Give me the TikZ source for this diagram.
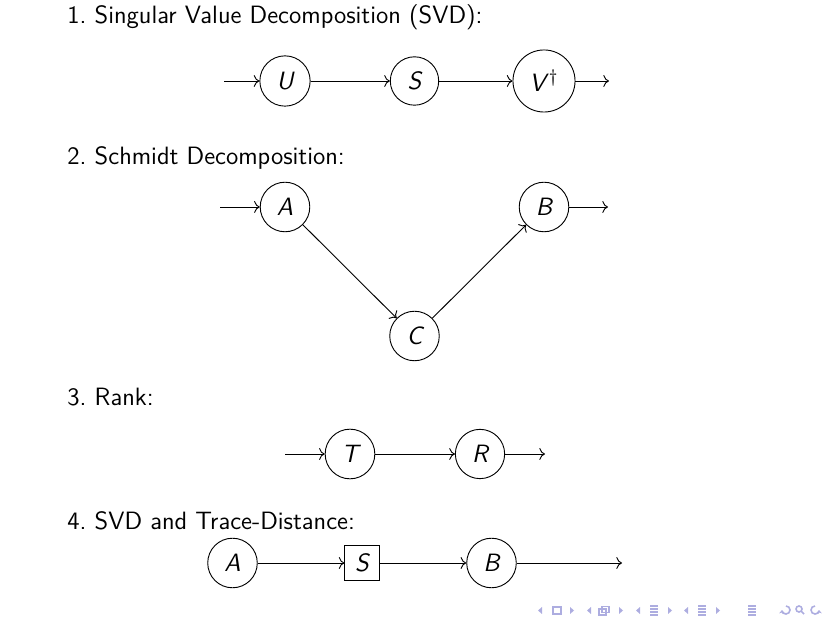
\documentclass[tikz,border=0pt]{standalone}
\usepackage{tikz}
\usetikzlibrary{arrows,arrows.meta}
\renewcommand{\familydefault}{\sfdefault}
\definecolor{navcol}{rgb}{0.68,0.68,0.88}

\begin{document}
\fontsize{11}{13.6}\selectfont
\begin{tikzpicture}[x=0.015422cm, y=-0.015422cm,
	state/.style={circle, draw, inner sep=4pt, font=\itshape},
	block/.style={rectangle, draw, minimum size=15pt, inner sep=3pt, font=\itshape},
	item/.style={anchor=base west, inner sep=0pt},
	nav/.style={navcol, line width=0.7pt}]
	\useasboundingbox (0,0) rectangle (830,623);

	% 1. SVD
	\node[item] (t1) at (67,24) {1.\ Singular Value Decomposition (SVD):};
	\coordinate (in1) at (224,81);
	\node[state] (u) at (285,81) {U};
	\node[state] (s) at (414.5,81) {S};
	\node[state] (v) at (544,81) {V\/$^{\dagger}$};
	\coordinate (out1) at (609,81);
	\path[->]
	(in1) edge (u)
	(u) edge (s)
	(s) edge (v)
	(v) edge (out1)
	;

	% 2. Schmidt
	\node[item] (t2) at (67,165) {2.\ Schmidt Decomposition:};
	\coordinate (in2) at (220,207);
	\node[state] (a) at (285,207) {A};
	\node[state] (c) at (414.5,336) {C};
	\node[state] (b) at (544,207) {B};
	\coordinate (out2) at (608,207);
	\path[->]
	(in2) edge (a)
	(a) edge (c)
	(c) edge (b)
	(b) edge (out2)
	;

	% 3. Rank
	\node[item] (t3) at (67,406) {3.\ Rank:};
	\coordinate (in3) at (285,454);
	\node[state] (t) at (350,454) {T};
	\node[state] (r) at (480,454) {R};
	\coordinate (out3) at (545,454);
	\path[->]
	(in3) edge (t)
	(t) edge (r)
	(r) edge (out3)
	;

	% 4. SVD and trace distance
	\node[item] (t4) at (67,530) {4.\ SVD and Trace-Distance:};
	\node[state] (a4) at (232.5,563) {A};
	\node[block] (s4) at (362,563) {S};
	\node[state] (b4) at (491.5,563) {B};
	\coordinate (out4) at (622,563);
	\path[->]
	(a4) edge (s4)
	(s4) edge (b4)
	(b4) edge (out4)
	;

	% navigation symbols
	\foreach \x in {540,589,638,686}
		\fill[navcol] (\x+2,607) -- (\x-2,610.5) -- (\x+2,614) -- cycle;
	\foreach \x in {572,621,670,718}
		\fill[navcol] (\x-2,607) -- (\x+2,610.5) -- (\x-2,614) -- cycle;
	\draw[nav] (553,607) rectangle (561,614);
	\draw[nav] (599,609) rectangle (606,615);
	\draw[nav] (602,606.5) rectangle (609,612.5);
	\foreach \x in {654,702,752}
		\foreach \y in {606,609,612,615}
			\draw[nav] (\x-4,\y) -- (\x+4,\y);
	\draw[nav, {Stealth[length=1.5pt,width=2.5pt]}-] (782,610) arc (180:-90:4);
	\draw[nav] (799,609) circle (3);
	\draw[nav] (801,611) -- (804,614);
	\draw[nav, {Stealth[length=1.5pt,width=2.5pt]}-] (819,610) arc (0:270:4);
\end{tikzpicture}
\end{document}
